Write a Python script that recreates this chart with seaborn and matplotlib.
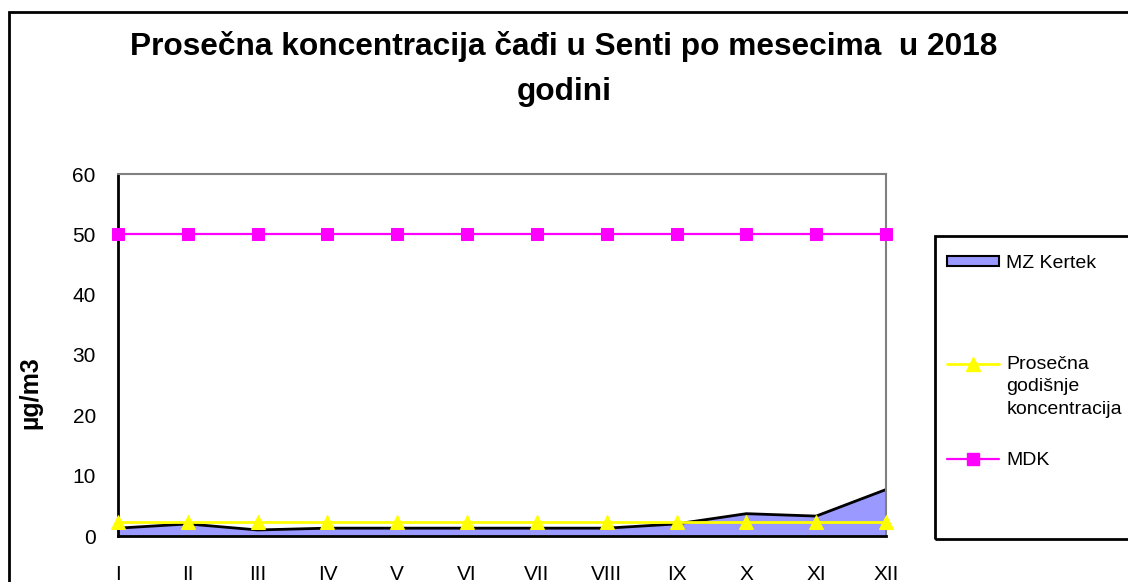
import numpy as np
import pandas as pd
import seaborn as sns
import matplotlib.pyplot as plt
from matplotlib.lines import Line2D
from matplotlib.patches import Patch, Rectangle
from matplotlib.legend_handler import HandlerLine2D

# data
months = ["I", "II", "III", "IV", "V", "VI", "VII", "VIII", "IX", "X", "XI", "XII"]
kertek = [1.3, 2.0, 1.0, 1.3, 1.3, 1.3, 1.3, 1.3, 2.0, 3.7, 3.3, 7.7]
prosek = [2.3] * 12
mdk = [50] * 12

df = pd.DataFrame({"idx": np.arange(len(months)), "month": months,
                   "kertek": kertek, "prosek": prosek, "mdk": mdk})

sns.set_style("white")
plt.rcParams['font.family'] = ['Liberation Sans', 'DejaVu Sans']
for k in ["text.color", "axes.labelcolor", "xtick.color", "ytick.color"]:
    plt.rcParams[k] = "black"

fig = plt.figure(figsize=(11.28, 5.82), dpi=100)
W, H = 1128, 582
ax = fig.add_axes([118 / W, 1 - 536 / H, (886 - 118) / W, (536 - 174) / H])

# area series
ax.fill_between(df["idx"], 0, df["kertek"], color="#9999FF", lw=0, zorder=1)
sns.lineplot(data=df, x="idx", y="kertek", color="black", lw=2, ax=ax, zorder=2)
sns.lineplot(data=df, x="idx", y="prosek", color="#FFFF00", lw=2, marker="^",
             markersize=10, markeredgecolor="#FFFF00", ax=ax, zorder=3, clip_on=False)
sns.lineplot(data=df, x="idx", y="mdk", color="#FF00FF", lw=1.6, marker="s",
             markersize=8.5, markeredgecolor="#FF00FF", ax=ax, zorder=3, clip_on=False)

ax.set_xlim(0, 11)
ax.set_ylim(0, 60)
ax.set_xticks(df["idx"])
ax.set_xticklabels(months)
ax.set_yticks(range(0, 61, 10))
ax.tick_params(axis="both", direction="out", length=8, width=1.5, color="black",
               labelsize=15, labelcolor="black")
ax.tick_params(axis="x", pad=13)
ax.tick_params(axis="y", pad=8)
ax.set_xlabel("")
ax.set_ylabel("µg/m3", fontsize=18, fontweight="bold", color="black")
ax.yaxis.set_label_coords(-0.099, 0.395)

for s in ["left", "bottom"]:
    ax.spines[s].set_color("black")
    ax.spines[s].set_linewidth(2)
for s in ["top", "right"]:
    ax.spines[s].set_color("#808080")
    ax.spines[s].set_linewidth(1.5)

fig.suptitle("Prosečna koncentracija čađi u Senti po mesecima  u 2018\ngodini",
             x=0.5, y=1 - 31 / H, va="top", fontsize=22.8, fontweight="bold",
             linespacing=1.64, color="black")

# outer chart frame and legend frame
fig.patches.append(Rectangle((9 / W, -0.1), 1.2, 1 - 12 / H + 0.1, transform=fig.transFigure,
                             fill=False, edgecolor="black", lw=2))
fig.patches.append(Rectangle((935 / W, 1 - 539 / H), 1.0, (539 - 236) / H,
                             transform=fig.transFigure, fill=False,
                             edgecolor="black", lw=2))

LEG_FS = 14
LEG_LS = 1.43


class FirstLineHandler(HandlerLine2D):
    # put the handle next to the first line of a 3-line label
    def create_artists(self, legend, orig_handle, xdescent, ydescent, width,
                       height, fontsize, trans):
        arts = super().create_artists(legend, orig_handle, xdescent, ydescent,
                                      width, height, fontsize, trans)
        for a in arts:
            a.set_ydata(np.asarray(a.get_ydata(), dtype=float) + 1.2 * fontsize)
        return arts


prosek_handle = Line2D([], [], color="#FFFF00", lw=2, marker="^", markersize=10)
handles = [
    Patch(facecolor="#9999FF", edgecolor="black", lw=1.5),
    Line2D([], [], linestyle="none"),
    prosek_handle,
    Line2D([], [], color="#FF00FF", lw=1.6, marker="s", markersize=8.5),
]
labels = ["MZ Kertek", " ", "Prosečna\ngodišnje\nkoncentracija", "MDK"]
leg = fig.legend(handles, labels, loc="upper left", bbox_to_anchor=(947 / W, 1 - 255 / H),
                 frameon=False, fontsize=LEG_FS, handlelength=2.7, handleheight=0.4,
                 handletextpad=0.36, labelspacing=1.72, borderpad=0, borderaxespad=0,
                 handler_map={prosek_handle: FirstLineHandler()})
for t in leg.get_texts():
    t.set_linespacing(LEG_LS)
    t.set_color("black")

fig.savefig("out.png", dpi=100)
